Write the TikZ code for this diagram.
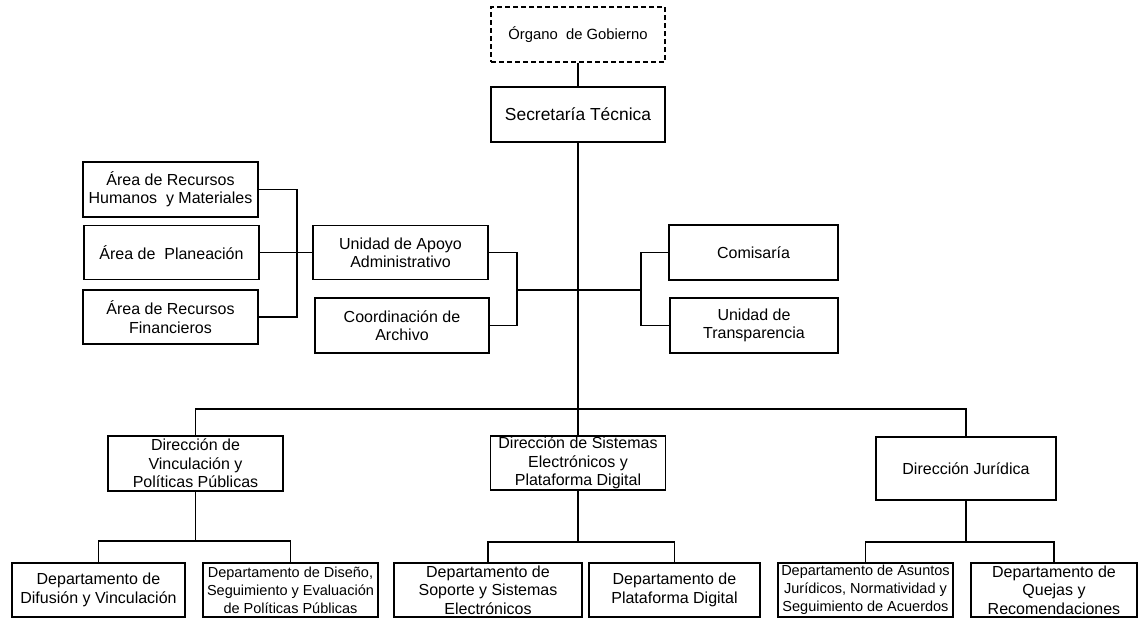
\documentclass[tikz,border=0pt]{standalone}
\usepackage{fontspec}
\setmainfont{Liberation Sans}
\begin{document}
\begin{tikzpicture}[x=1pt,y=-1pt,
  box/.style={draw,line width=1.2pt,rectangle,align=center,inner sep=1pt,
    font=\fontsize{16}{18.4}\selectfont},
  small/.style={font=\fontsize{14.5}{18}\selectfont},
  conn/.style={line width=1.2pt}]
\useasboundingbox (0,0) rectangle (1138,619);
\fill[white] (0,0) rectangle (1138,619);
% nodes
\node[box,dash pattern=on 5pt off 3pt,minimum width=174,minimum height=55,font=\fontsize{14.8}{17}\selectfont] (org) at (578,34.5) {Órgano\ \ de Gobierno};
\node[box,minimum width=174,minimum height=55,font=\fontsize{17.4}{20}\selectfont] (sec) at (578,114.5) {Secretaría Técnica};
\node[box,minimum width=175,minimum height=55] (rh) at (170.5,189.5) {Área de Recursos\\Humanos\ \ y Materiales};
\node[box,minimum width=175,minimum height=54] (plan) at (171.5,252.5) {Área de\ \ Planeación};
\node[box,minimum width=175,minimum height=54] (fin) at (170.5,317) {Área de Recursos\\Financieros};
\node[box,minimum width=175,minimum height=54] (uaa) at (400.5,252.5) {Unidad de Apoyo\\Administrativo};
\node[box,minimum width=174,minimum height=55] (arch) at (402,325.5) {Coordinación de\\Archivo};
\node[box,minimum width=169,minimum height=55] (com) at (753.5,252.5) {Comisaría};
\node[box,minimum width=168,minimum height=55] (trans) at (754,325.5) {Unidad de\\Transparencia};
\node[box,minimum width=175,minimum height=55] (dvin) at (195.5,463.5) {Dirección de\\Vinculación y\\Políticas Públicas};
\node[box,minimum width=175,minimum height=54] (dsis) at (578,463) {Dirección de Sistemas\\Electrónicos y\\Plataforma Digital};
\node[box,minimum width=180,minimum height=63] (djur) at (966,468.5) {Dirección Jurídica};
\node[box,minimum width=173,minimum height=54] (ddif) at (98.5,590) {Departamento de\\Difusión y Vinculación};
\node[box,small,minimum width=175,minimum height=54] (ddis) at (290.5,590) {Departamento de Diseño,\\Seguimiento y Evaluación\\de Políticas Públicas};
\node[box,minimum width=188,minimum height=54] (dsop) at (488,590) {Departamento de\\Soporte y Sistemas\\Electrónicos};
\node[box,minimum width=171,minimum height=54] (dpla) at (674.5,590) {Departamento de\\Plataforma Digital};
\node[box,small,minimum width=175,minimum height=54] (dasu) at (865.5,590) {Departamento de Asuntos\\Jurídicos, Normatividad y\\Seguimiento de Acuerdos};
\node[box,minimum width=166,minimum height=54] (dque) at (1054,590) {Departamento de\\Quejas y\\Recomendaciones};
% coordinates
\coordinate (bus) at (578,409);
\coordinate (lb) at (297,252.5);
\coordinate (mb) at (517,290);
\coordinate (rb) at (641,290);
\coordinate (sb1) at (195.5,541);
\coordinate (sb2) at (578,542);
\coordinate (sb3) at (966,542);
% connectors
\draw[conn] (org) -- (sec);
\draw[conn] (sec.south) -- (dsis.north);
\draw[conn] (dvin.north) |- (bus) -| (djur.north);
\draw[conn] (rh.east) -| (lb) |- (fin.east);
\draw[conn] (plan.east) -- (uaa.west);
\draw[conn] (uaa.east) -| (mb) |- (arch.east);
\draw[conn] (mb) -- (rb);
\draw[conn] (com.west) -| (rb) |- (trans.west);
\draw[conn] (dvin.south) -- (sb1);
\draw[conn] (ddif.north) |- (sb1) -| (ddis.north);
\draw[conn] (dsis.south) -- (sb2);
\draw[conn] (dsop.north) |- (sb2) -| (dpla.north);
\draw[conn] (djur.south) -- (sb3);
\draw[conn] (dasu.north) |- (sb3) -| (dque.north);
\end{tikzpicture}
\end{document}
